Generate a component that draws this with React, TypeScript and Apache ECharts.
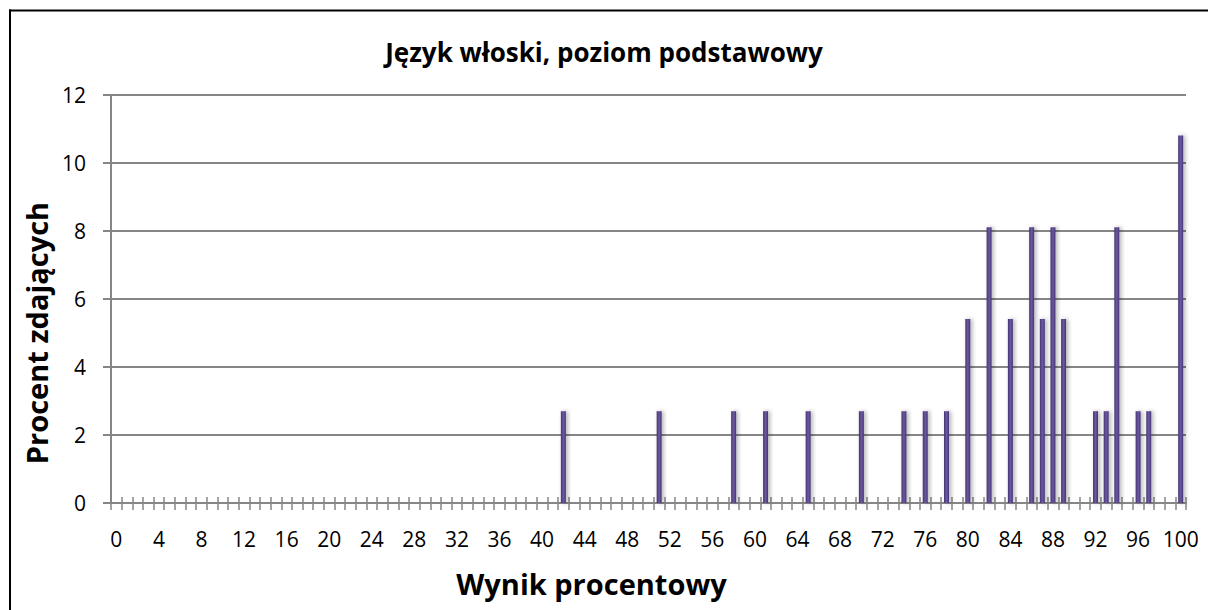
import React, { useEffect, useRef } from "react";
import * as echarts from "echarts";

const categories: string[] = Array.from({ length: 101 }, (_, i) => String(i));
const scores: number[] = [42, 51, 58, 61, 65, 70, 74, 76, 78, 80, 82, 84, 86, 87, 88, 89, 92, 93, 94, 96, 97, 100];
const percents: number[] = [2.7, 2.7, 2.7, 2.7, 2.7, 2.7, 2.7, 2.7, 2.7, 5.41, 8.11, 5.41, 8.11, 5.41, 8.11, 5.41, 2.7, 2.7, 8.11, 2.7, 2.7, 10.81];
const yTicks = { min: 0, max: 12, interval: 2 };

const FONT = "Open Sans";

export default function App() {
  const ref = useRef<HTMLDivElement>(null);
  useEffect(() => {
    if (!ref.current) return;
    const chart = echarts.init(ref.current, null, { renderer: "svg" });
    const values = categories.map((c) => {
      const idx = scores.indexOf(Number(c));
      return idx >= 0 ? percents[idx] : 0;
    });
    const axisGray = "#868686";
    chart.setOption({
      animation: false,
      backgroundColor: "#ffffff",
      title: {
        text: "Język włoski, poziom podstawowy",
        left: "center",
        top: 34,
        textStyle: { fontFamily: FONT, fontWeight: "bold", fontSize: 26, color: "#000" },
      },
      graphic: [
        {
          type: "line",
          shape: { x1: 9, y1: 10.5, x2: 1208, y2: 10.5 },
          style: { stroke: "#000", lineWidth: 2 },
          silent: true,
        },
        {
          type: "line",
          shape: { x1: 10, y1: 9.5, x2: 10, y2: 610 },
          style: { stroke: "#000", lineWidth: 2 },
          silent: true,
        },
      ],
      grid: { left: 111, right: 22, top: 95, bottom: 107, containLabel: false },
      xAxis: [
        {
          type: "category",
          data: categories,
          boundaryGap: true,
          name: "Wynik procentowy",
          nameLocation: "middle",
          nameGap: 66,
          nameTextStyle: {
            fontFamily: FONT,
            fontWeight: "bold",
            fontSize: 29,
            color: "#000",
            padding: [0, 114, 0, 0],
          },
          axisLine: { lineStyle: { color: axisGray, width: 2 } },
          axisTick: { show: true, interval: 0, length: 7, lineStyle: { color: axisGray, width: 1.5 } },
          axisLabel: { interval: 3, fontFamily: FONT, fontSize: 21, color: "#000", margin: 25 },
          splitLine: { show: false },
        },
        {
          type: "category",
          data: categories,
          boundaryGap: true,
          position: "bottom",
          axisLine: { show: false },
          axisTick: { show: true, inside: true, interval: 0, length: 6, lineStyle: { color: axisGray, width: 1.5 } },
          axisLabel: { show: false },
          splitLine: { show: false },
        },
      ],
      yAxis: {
        type: "value",
        min: yTicks.min,
        max: yTicks.max,
        interval: yTicks.interval,
        name: "Procent zdających",
        nameLocation: "middle",
        nameGap: 55,
        nameRotate: 90,
        nameTextStyle: {
          fontFamily: FONT,
          fontWeight: "bold",
          fontSize: 29,
          color: "#000",
          padding: [0, 68, 0, 0],
        },
        axisLine: { show: true, lineStyle: { color: axisGray, width: 2 } },
        axisTick: { show: true, length: 8, lineStyle: { color: axisGray, width: 2 } },
        axisLabel: { fontFamily: FONT, fontSize: 21, color: "#000", margin: 25 },
        splitLine: { lineStyle: { color: axisGray, width: 2 } },
      },
      series: [
        {
          type: "bar",
          data: values,
          xAxisIndex: 0,
          barWidth: 5,
          itemStyle: {
            color: new echarts.graphic.LinearGradient(0, 0, 1, 0, [
              { offset: 0, color: "#45356f" },
              { offset: 0.5, color: "#6c58a4" },
              { offset: 1, color: "#45356f" },
            ]),
            shadowColor: "rgba(0,0,0,0.3)",
            shadowBlur: 4,
            shadowOffsetX: 2,
          },
          z: 3,
        },
      ],
    });
    return () => chart.dispose();
  }, []);
  return (
    <div
      ref={ref}
      style={{ position: "fixed", left: 0, top: 0, width: 1208, height: 610, background: "#fff" }}
    />
  );
}
